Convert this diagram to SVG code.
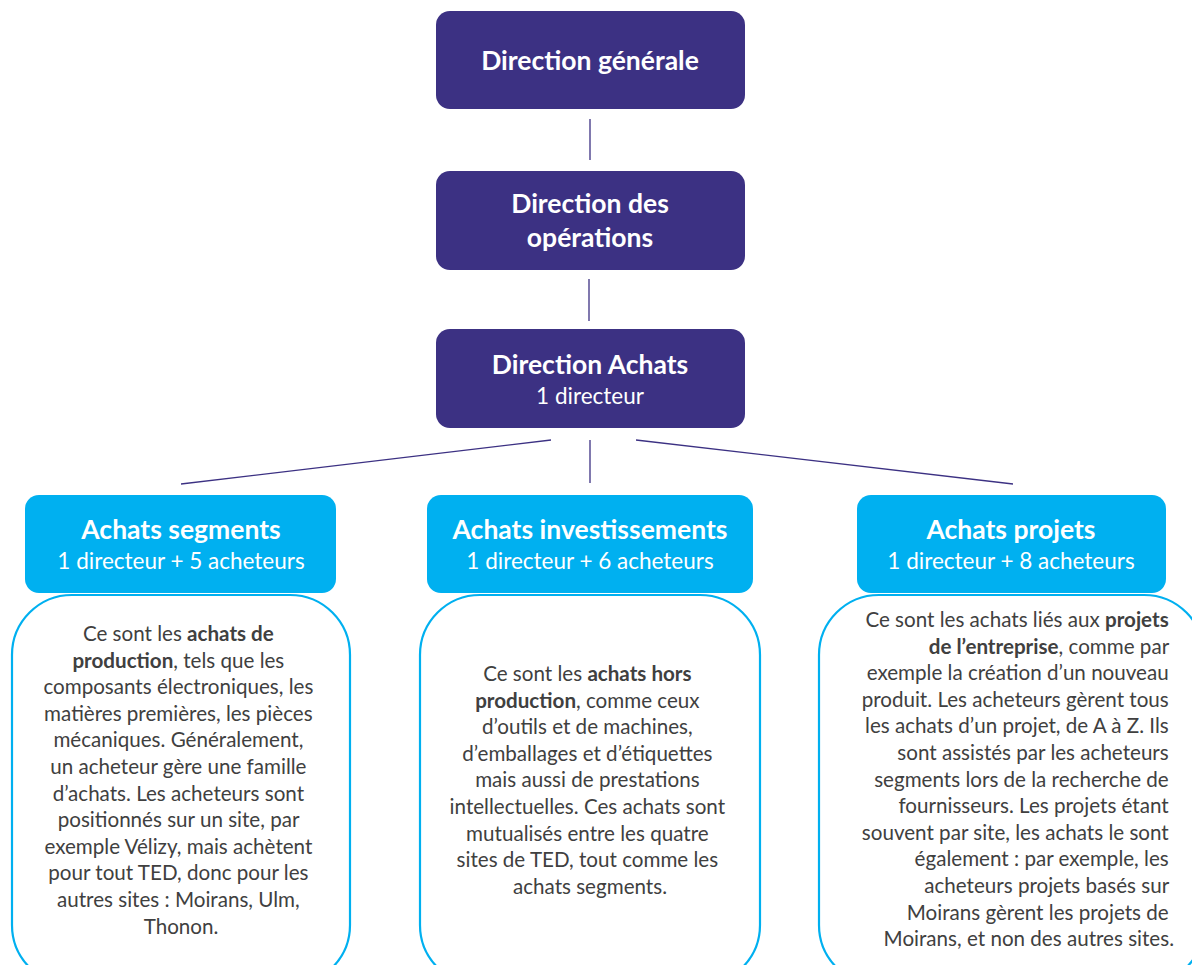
<svg xmlns="http://www.w3.org/2000/svg" width="1192" height="965" viewBox="0 0 1192 965">
<style>
.dir{fill:#3C3183}
.cat{fill:#00B0F0}
.desc{fill:#FFFFFF;stroke:#00B0F0;stroke-width:2.2}
.t{font-family:Lato,"Open Sans",sans-serif;fill:#FFFFFF;text-anchor:middle}
.h{font-size:26.5px;font-weight:bold}
.s{font-size:22.5px}
.b{font-family:Lato,"Open Sans",sans-serif;font-size:20.6px;fill:#404040;text-anchor:middle}
.r{text-anchor:end}
.k{font-weight:bold}
.ln{stroke:#3C3183;stroke-width:1.3;fill:none}
</style>
<rect width="1192" height="965" fill="#FFFFFF"/>
<g id="connectors">
<line class="ln" x1="590" y1="119" x2="590" y2="160"/>
<line class="ln" x1="589" y1="279" x2="589" y2="321"/>
<line class="ln" x1="551" y1="440" x2="181" y2="484"/>
<line class="ln" x1="590" y1="440" x2="590" y2="483"/>
<line class="ln" x1="636" y1="440" x2="1013" y2="484"/>
</g>
<g id="direction-generale">
<rect class="dir" x="436" y="11" width="309" height="98" rx="14"/>
<text class="t h" x="590" y="70">Direction générale</text>
</g>
<g id="direction-operations">
<rect class="dir" x="436" y="171" width="309" height="99" rx="14"/>
<text class="t h" x="590" y="213">Direction des</text>
<text class="t h" x="590" y="247">opérations</text>
</g>
<g id="direction-achats">
<rect class="dir" x="436" y="329" width="309" height="99" rx="14"/>
<text class="t h" x="590" y="374">Direction Achats</text>
<text class="t s" x="590" y="404">1 directeur</text>
</g>
<g id="achats-segments-desc">
<rect class="desc" x="12" y="595" width="338" height="390" rx="60"/>
<text class="b" x="181">
<tspan x="181" y="641">Ce sont les <tspan class="k">achats de</tspan></tspan>
<tspan x="181" y="667.6"><tspan class="k">production</tspan>,  tels que les</tspan>
<tspan x="181" y="694.2">composants électroniques, les</tspan>
<tspan x="181" y="720.8">matières premières, les pièces</tspan>
<tspan x="181" y="747.4">mécaniques. Généralement,</tspan>
<tspan x="181" y="774">un acheteur gère une famille</tspan>
<tspan x="181" y="800.6">d’achats. Les acheteurs sont</tspan>
<tspan x="181" y="827.2">positionnés sur un site, par</tspan>
<tspan x="181" y="853.8">exemple Vélizy, mais achètent</tspan>
<tspan x="181" y="880.4">pour tout TED, donc pour les</tspan>
<tspan x="181" y="907">autres sites : Moirans, Ulm,</tspan>
<tspan x="181" y="933.6">Thonon.</tspan>
</text>
</g>
<g id="achats-segments">
<rect class="cat" x="25" y="495" width="311" height="98" rx="14"/>
<text class="t h" x="181" y="539">Achats segments</text>
<text class="t s" x="181" y="569">1 directeur + 5 acheteurs</text>
</g>
<g id="achats-investissements-desc">
<rect class="desc" x="420" y="595" width="340" height="390" rx="60"/>
<text class="b" x="590">
<tspan x="590" y="681">Ce sont les <tspan class="k">achats hors</tspan></tspan>
<tspan x="590" y="707.6"><tspan class="k">production</tspan>,  comme ceux</tspan>
<tspan x="590" y="734.2">d’outils et de machines,</tspan>
<tspan x="590" y="760.8">d’emballages et d’étiquettes</tspan>
<tspan x="590" y="787.4">mais aussi de prestations</tspan>
<tspan x="590" y="814">intellectuelles. Ces achats sont</tspan>
<tspan x="590" y="840.6">mutualisés entre les quatre</tspan>
<tspan x="590" y="867.2">sites de TED, tout comme les</tspan>
<tspan x="590" y="893.8">achats segments.</tspan>
</text>
</g>
<g id="achats-investissements">
<rect class="cat" x="427" y="495" width="326" height="98" rx="14"/>
<text class="t h" x="590" y="539">Achats investissements</text>
<text class="t s" x="590" y="569">1 directeur + 6 acheteurs</text>
</g>
<g id="achats-projets-desc">
<rect class="desc" x="819" y="595" width="385" height="390" rx="60"/>
<text class="b r" x="1174">
<tspan x="1174" y="627">Ce sont les achats liés aux <tspan class="k">projets</tspan></tspan>
<tspan x="1174" y="653.6"><tspan class="k">de l’entreprise</tspan>, comme par</tspan>
<tspan x="1174" y="680.2">exemple la création d’un nouveau</tspan>
<tspan x="1174" y="706.8">produit. Les acheteurs gèrent tous</tspan>
<tspan x="1174" y="733.4">les achats d’un projet, de A à Z. Ils</tspan>
<tspan x="1174" y="760">sont assistés par les acheteurs</tspan>
<tspan x="1174" y="786.6">segments lors de la recherche de</tspan>
<tspan x="1174" y="813.2">fournisseurs. Les projets étant</tspan>
<tspan x="1174" y="839.8">souvent par site, les achats le sont</tspan>
<tspan x="1174" y="866.4">également : par exemple, les</tspan>
<tspan x="1174" y="893">acheteurs projets basés sur</tspan>
<tspan x="1174" y="919.6">Moirans gèrent les projets de</tspan>
<tspan x="1174" y="946.2">Moirans, et non des autres sites.</tspan>
</text>
</g>
<g id="achats-projets">
<rect class="cat" x="857" y="495" width="309" height="98" rx="14"/>
<text class="t h" x="1011" y="539">Achats projets</text>
<text class="t s" x="1011" y="569">1 directeur + 8 acheteurs</text>
</g>
</svg>
